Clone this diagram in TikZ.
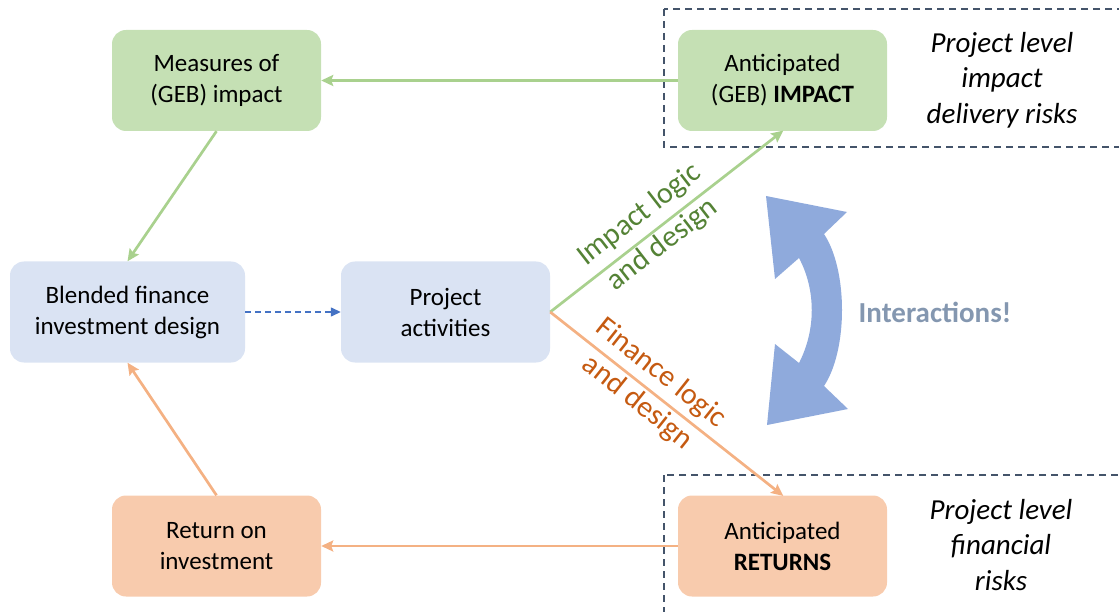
\documentclass[tikz,border=0pt]{standalone}
\usepackage{fontspec}
\setmainfont{Carlito}
\usetikzlibrary{arrows.meta}
\definecolor{gfill}{HTML}{C5E0B4}
\definecolor{gline}{HTML}{A9D18E}
\definecolor{bfill}{HTML}{DAE3F3}
\definecolor{ofill}{HTML}{F8CBAD}
\definecolor{oline}{HTML}{F4B183}
\definecolor{navy}{HTML}{44546A}
\definecolor{darr}{HTML}{4472C4}
\definecolor{bigarr}{HTML}{8FAADC}
\definecolor{inttext}{HTML}{8497B0}
\definecolor{gtext}{HTML}{548235}
\definecolor{otext}{HTML}{C55A11}
\begin{document}
\begin{tikzpicture}[x=1pt,y=-1pt,
  box/.style={rounded corners=14pt, minimum width=209pt, minimum height=101pt,
    align=center, inner sep=0pt, font=\fontsize{25}{31}\selectfont},
  gbox/.style={box, fill=gfill},
  bbox/.style={box, fill=bfill},
  obox/.style={box, fill=ofill},
  conn/.style={line width=2.7pt, -{Stealth[length=12pt,width=11pt,inset=2pt]}},
  gconn/.style={conn, draw=gline},
  oconn/.style={conn, draw=oline},
  riskbox/.style={draw=navy, line width=1.6pt, dash pattern=on 7pt off 5pt},
  risktext/.style={align=center, font=\fontsize{29}{35.5}\selectfont\itshape},
  lbl/.style={align=center, font=\fontsize{30}{37.5}\selectfont}
]
\useasboundingbox (0,0) rectangle (1119,612);
\clip (0,0) rectangle (1119,612);
% dashed risk frames
\draw[riskbox] (664,9) rectangle (1140,147);
\draw[riskbox] (664,475) rectangle (1140,640);
% nodes
\node[gbox] (mi) at (216.5,80.5) {Measures of\\(GEB) impact};
\node[gbox] (ai) at (782.5,80.5) {Anticipated\\(GEB) \textbf{IMPACT}};
\node[bbox, minimum width=235pt] (bf) at (127.5,312) {Blended finance\\investment design};
\node[bbox] (pa) at (445.5,312) {Project\\activities};
\node[obox] (ret) at (216.5,546) {Return on\\investment};
\node[obox] (ar) at (782.5,546) {Anticipated\\\textbf{RETURNS}};
% connectors
\draw[gconn] (ai.west) -- (mi.east);
\draw[gconn] (mi.south) -- (bf.north);
\draw[oconn] (ret.north) -- (bf.south);
\draw[oconn] (ar.west) -- (ret.east);
\draw[draw=darr, line width=1.4pt, dash pattern=on 6pt off 4pt, -{Triangle[length=10pt,width=9pt]}] (bf.east) -- (pa.west);
\draw[gconn, shorten >=-1pt] (pa.east) -- (ai.south);
\draw[oconn, shorten >=-1pt] (pa.east) -- (ar.north);
% rotated labels
\node[lbl, text=gtext, rotate=37.8] (il) at (651,230) {Impact logic\\and design};
\node[lbl, text=otext, rotate=-38.5] (fl) at (649,388) {Finance logic\\and design};
% risk texts
\node[risktext] (rt1) at (1002,80) {Project level\\impact\\delivery risks};
\node[risktext] (rt2) at (1001,545) {Project level\\financial\\risks};
% curved double arrow
\fill[bigarr] (766,196) -- (847,212) -- (824,234)
  .. controls (848,270) and (848,350) .. (824,386)
  -- (848,409) -- (767,425) -- (775,344) -- (799,363)
  .. controls (816,330) and (816,290) .. (799,258)
  -- (775,279) -- cycle;
\node[text=inttext, font=\fontsize{29}{35}\selectfont\bfseries] (int) at (935,312) {Interactions!};
\end{tikzpicture}
\end{document}
